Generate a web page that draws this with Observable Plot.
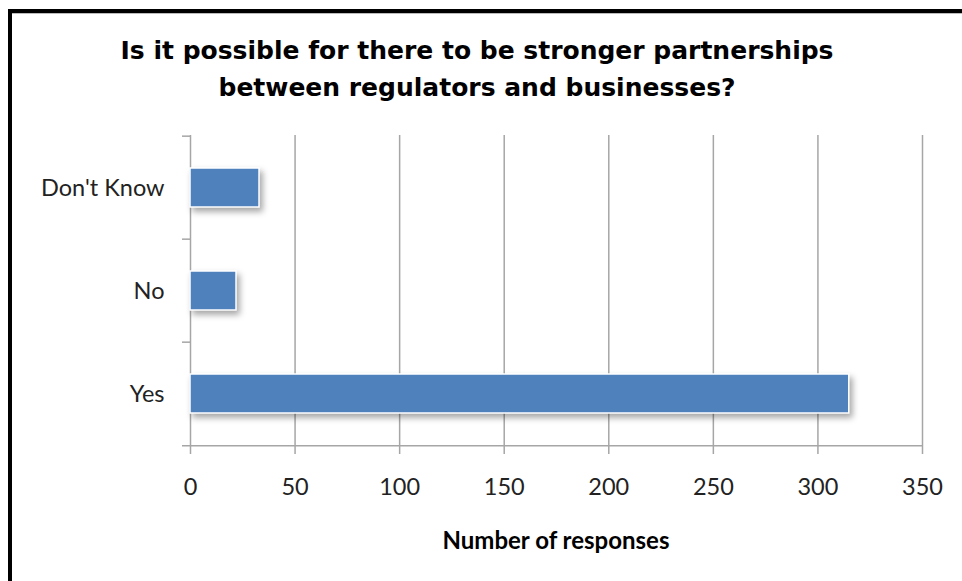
<!DOCTYPE html>
<html>
<head>
<meta charset="utf-8">
<script src="https://cdn.jsdelivr.net/npm/d3@7"></script>
<script src="https://cdn.jsdelivr.net/npm/@observablehq/plot@0.6"></script>
<style>
  html, body { margin: 0; padding: 0; background: #fff; }
  #wrap { position: relative; width: 962px; height: 581px; overflow: hidden; background: #fff; }
  #frame { position: absolute; left: 8px; top: 9px; width: 1000px; height: 700px;
           border-top: 4px solid #000; border-left: 4px solid #000; box-shadow: 0 1px 0 #bbb inset; }
  #title { position: absolute; left: 0; width: 954px; top: 32px; text-align: center;
           font-family: "DejaVu Sans", sans-serif; font-weight: bold; font-size: 25px; line-height: 37px; color: #000; }
  #chart { position: absolute; left: 0; top: 0; }
  #chart svg g[aria-label$="tick"] { stroke: #a6a6a6; stroke-width: 1.5px; }
  #xlabel { position: absolute; left: 190px; width: 732px; top: 525px; text-align: center;
            font-family: Lato, sans-serif; font-weight: bold; font-size: 24px; color: #000; }
</style>
</head>
<body>
<div id="wrap">
  <div id="frame"></div>
  <div id="title">Is it possible for there to be stronger partnerships<br>between regulators and businesses?</div>
  <div id="chart"></div>
  <div id="xlabel">Number of responses</div>
</div>
<script>
const categories = ["Don't Know", "No", "Yes"];
const responses = [33, 22, 315];
const xTicks = [0, 50, 100, 150, 200, 250, 300, 350];

const data = categories.map((c, i) => ({category: c, value: responses[i]}));

const W = 962, H = 581, mL = 190, mR = 40, mT = 135, mB = 135;
const step = (H - mT - mB) / categories.length;
const pxPerUnit = (W - mL - mR) / (xTicks[xTicks.length - 1] - xTicks[0]);
const tickUnits = 8 / pxPerUnit;

const chart = Plot.plot({
  width: W, height: H,
  marginLeft: mL, marginRight: mR, marginTop: mT, marginBottom: mB,
  style: {fontFamily: "Lato, sans-serif", fontSize: "23.5px", color: "#222", background: "transparent", overflow: "visible"},
  x: {domain: [0, 350], ticks: xTicks, tickSize: 8, tickPadding: 24, label: null, line: false},
  y: {domain: categories, paddingInner: 0.62, paddingOuter: 0.31, tickSize: 0, tickPadding: 26, label: null},
  marks: [
    Plot.ruleX(xTicks, {stroke: "#a6a6a6", strokeWidth: 1.5}),
    Plot.ruleY(categories, {x1: -tickUnits, x2: 0, dy: -step / 2, stroke: "#a6a6a6", strokeWidth: 1.5}),
    Plot.ruleY([categories[categories.length - 1]], {x1: -tickUnits, x2: 350, dy: step / 2, stroke: "#a6a6a6", strokeWidth: 1.5}),
    Plot.barX(data, {y: "category", x: "value", fill: "#4f81bd", stroke: "#fff", strokeWidth: 1.5})
  ]
});
document.getElementById("chart").appendChild(chart);

const svg = d3.select(chart);
svg.selectAll("g[aria-label='bar'] rect").style("filter", "drop-shadow(3px 4px 3px rgba(0,0,0,0.35))");
</script>
</body>
</html>
